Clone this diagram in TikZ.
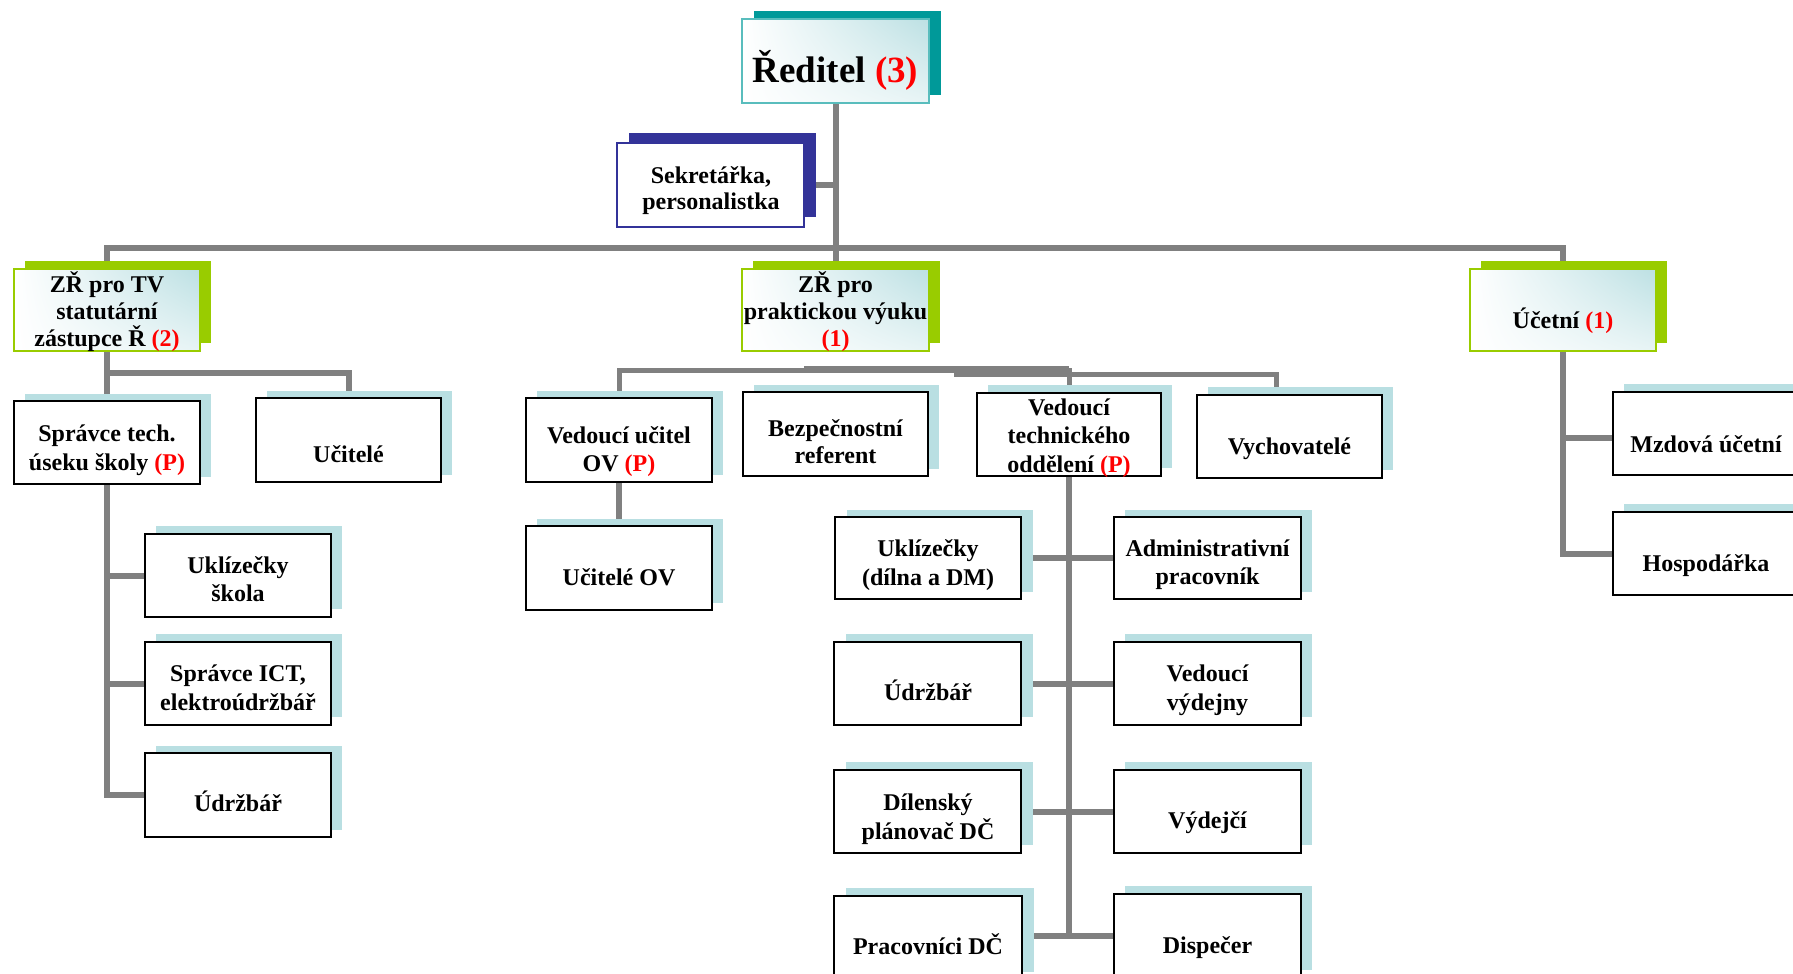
\documentclass[tikz,border=0pt]{standalone}
\usepackage{fontspec}
\setmainfont{Liberation Serif}
\usetikzlibrary{calc,shadings}
\pgfdeclarelayer{background}
\pgfsetlayers{background,main}
\definecolor{cteal}{HTML}{009999}
\definecolor{cnavy}{HTML}{333399}
\definecolor{cgreen}{HTML}{99CC00}
\definecolor{clblue}{HTML}{B9DFE2}
\definecolor{cgrad}{HTML}{BCE0E3}
\definecolor{cline}{HTML}{808080}
\definecolor{cred}{HTML}{FF0000}
\tikzset{
  obase/.style={rectangle, inner sep=0pt, outer sep=0pt},
  staff/.style={obase, draw=black, line width=2.4pt, fill=white},
  staffsh/.style={obase, fill=clblue},
  head/.style={obase, draw=cteal!65, line width=2pt, upper left=white, lower left=white, upper right=cgrad, lower right=cgrad!35},
  headsh/.style={obase, fill=cteal},
  sec/.style={obase, draw=cnavy, line width=2pt, fill=white},
  secsh/.style={obase, fill=cnavy},
  dep/.style={obase, draw=cgreen, line width=2pt, upper left=white, lower left=white, upper right=cgrad, lower right=cgrad!35},
  depsh/.style={obase, fill=cgreen},
  txt/.style={inner sep=0pt, outer sep=0pt, align=center, font=\fontsize{24pt}{28pt}\selectfont\bfseries},
  conn/.style={draw=cline, line width=6pt},
  connthin/.style={draw=cline, line width=5pt},
}
% box: name, kind, x1, y1, x2, y2, shadow dx, shadow dy
\newcommand{\mkorgbox}[8]{%
  \pgfmathsetmacro{\obW}{#5-#3}\pgfmathsetmacro{\obH}{#6-#4}%
  \pgfmathsetmacro{\obX}{(#3+#5)/2}\pgfmathsetmacro{\obY}{(#4+#6)/2}%
  \node[#2sh, minimum width=\obW pt, minimum height=\obH pt] (#1-sh) at (\obX+#7,\obY+#8) {};
  \node[#2, minimum width=\obW pt, minimum height=\obH pt] (#1) at (\obX,\obY) {};
}
\newcommand{\tline}[4]{\node[txt, anchor=base] (#1) at (#2,#3) {#4};}
\newcommand{\tmulti}[5]{\node[txt, anchor=north, font=\fontsize{24pt}{#4pt}\selectfont\bfseries] (#1) at (#2,#3-24) {\rule{0pt}{24pt}#5};}
\newcommand{\rd}[1]{\textcolor{cred}{#1}}
\begin{document}
\begin{tikzpicture}[x=1pt,y=-1pt]
\useasboundingbox (0,0) rectangle (1793,974);
\begin{scope}
\clip (0,0) rectangle (1793,974);
% level 0/1
\mkorgbox{red}{head}{742}{19}{929}{103}{11.5}{-8}
\mkorgbox{sek}{sec}{617}{143}{804}{227}{12}{-10}
\mkorgbox{zrtv}{dep}{14}{269}{200}{351}{11}{-8.5}
\mkorgbox{zrp}{dep}{742}{269}{929}{351}{11}{-8.5}
\mkorgbox{uc}{dep}{1470}{269}{1656}{351}{11}{-8.5}
% level 2
\mkorgbox{st}{staff}{14}{401}{200}{484}{11}{-7.5}
\mkorgbox{ucit}{staff}{256}{398}{441}{482}{11}{-7.5}
\mkorgbox{vuov}{staff}{526}{398}{712}{482}{11}{-7.5}
\mkorgbox{bez}{staff}{743}{392}{928}{476}{11}{-7.5}
\mkorgbox{vto}{staff}{977}{393}{1161}{476}{11}{-8}
\mkorgbox{vych}{staff}{1197}{395}{1382}{478}{11}{-8}
\mkorgbox{mzd}{staff}{1613}{392}{1799}{475}{11}{-8}
\mkorgbox{hosp}{staff}{1613}{512}{1799}{595}{11}{-8}
% level 3
\mkorgbox{ukl}{staff}{145}{534}{331}{617}{11}{-8}
\mkorgbox{ict}{staff}{145}{642}{331}{725}{11}{-8}
\mkorgbox{udl}{staff}{145}{753}{331}{837}{11}{-7.5}
\mkorgbox{uov}{staff}{526}{526}{712}{610}{11}{-7.5}
\mkorgbox{ukd}{staff}{835}{517}{1021}{599}{11.5}{-7.5}
\mkorgbox{adm}{staff}{1114}{517}{1301}{599}{11}{-7.5}
\mkorgbox{udm}{staff}{834}{642}{1021}{725}{12}{-8}
\mkorgbox{vvy}{staff}{1114}{642}{1301}{725}{11}{-8}
\mkorgbox{dpl}{staff}{834}{770}{1021}{853}{12}{-8}
\mkorgbox{vyd}{staff}{1114}{770}{1301}{853}{11}{-8}
\mkorgbox{pdc}{staff}{834}{896}{1022}{980}{12}{-8}
\mkorgbox{disp}{staff}{1114}{894}{1301}{978}{11}{-8}
% texts
\node[txt, anchor=base, font=\fontsize{37pt}{44pt}\selectfont\bfseries] (red-t) at (835.5,82) {Ředitel \rd{(3)}};
\tmulti{sek-t}{711}{183}{26}{Sekretářka,\\personalistka}
\tmulti{zrtv-t}{107}{292}{27}{ZŘ pro TV\\statutární\\zástupce Ř \rd{(2)}}
\tmulti{zrp-t}{835.5}{292}{27}{ZŘ pro\\praktickou výuku\\\rd{(1)}}
\tline{uc-t}{1563}{328}{Účetní \rd{(1)}}
\tmulti{st-t}{107}{441.5}{28.5}{Správce tech.\\úseku školy \rd{(P)}}
\tline{ucit-t}{348.5}{462}{Učitelé}
\tmulti{vuov-t}{619}{443}{28.5}{Vedoucí učitel\\OV \rd{(P)}}
\tline{uov-t}{619}{585}{Učitelé OV}
\tmulti{bez-t}{835.5}{436.5}{27}{Bezpečnostní\\referent}
\tmulti{vto-t}{1069}{415}{28.5}{Vedoucí\\technického\\oddělení \rd{(P)}}
\tline{vych-t}{1289.5}{454}{Vychovatelé}
\tline{mzd-t}{1706}{452}{Mzdová účetní}
\tline{hosp-t}{1706}{571}{Hospodářka}
\tmulti{ukl-t}{238}{573}{28.5}{Uklízečky\\škola}
\tmulti{ict-t}{238}{681.5}{28.5}{Správce ICT,\\elektroúdržbář}
\tline{udl-t}{238}{811.5}{Údržbář}
\tmulti{ukd-t}{928}{556}{29}{Uklízečky\\(dílna a DM)}
\tmulti{adm-t}{1207.5}{556}{28.5}{Administrativní\\pracovník}
\tline{udm-t}{928}{700}{Údržbář}
\tmulti{vvy-t}{1207.5}{681.7}{28.5}{Vedoucí\\výdejny}
\tmulti{dpl-t}{928}{810}{29}{Dílenský\\plánovač DČ}
\tline{vyd-t}{1207.5}{828}{Výdejčí}
\tline{pdc-t}{928}{954}{Pracovníci DČ}
\tline{disp-t}{1207.5}{953}{Dispečer}
\end{scope}
% connectors
\coordinate (busa) at (0,248);
\coordinate (busb) at (0,373);
\coordinate (busc) at (0,370);
\coordinate (busd) at (804,368.5);
\coordinate (buse) at (954,374);
\coordinate (vychtop) at (1276,374);
\begin{pgfonlayer}{background}
\draw[conn] (red.south) -- (zrp.north);
\draw[conn] (sek.center) -- (red.south |- sek.center);
\draw[conn] (zrtv.north) -- (zrtv.north |- busa) -- (uc.north |- busa) -- (uc.north);
% ZR TV
\draw[conn] (zrtv.south) -- (st.north);
\draw[conn] (zrtv.south |- busb) -- (ucit.north |- busb) -- (ucit.north);
\draw[conn] (st.south) -- (st.south |- udl.west) -- (udl.west);
\draw[conn] (st.south |- ukl.west) -- (ukl.west);
\draw[conn] (st.south |- ict.west) -- (ict.west);
% ZR prakt
\draw[connthin] (vuov.north) -- (vuov.north |- busc) -- (vto.north |- busc) -- (vto.north);
\draw[connthin] (busd) -- (vto.north |- busd);
\draw[connthin] (buse) -- (vychtop) -- (vychtop |- vych.north);
\draw[conn] (vuov.south) -- (uov.north);
\draw[conn] (vto.south) -- (vto.south |- disp.west);
\draw[conn] (ukd.east) -- (adm.west);
\draw[conn] (udm.east) -- (vvy.west);
\draw[conn] (dpl.east) -- (vyd.west);
\draw[conn] (pdc.east |- disp.west) -- (disp.west);
% Ucetni
\draw[conn] (uc.south) -- (uc.south |- hosp.west) -- (hosp.west);
\draw[conn] ([yshift=-4pt]uc.south |- mzd.west) -- ([yshift=-4pt]mzd.west);
\end{pgfonlayer}
\end{tikzpicture}
\end{document}
